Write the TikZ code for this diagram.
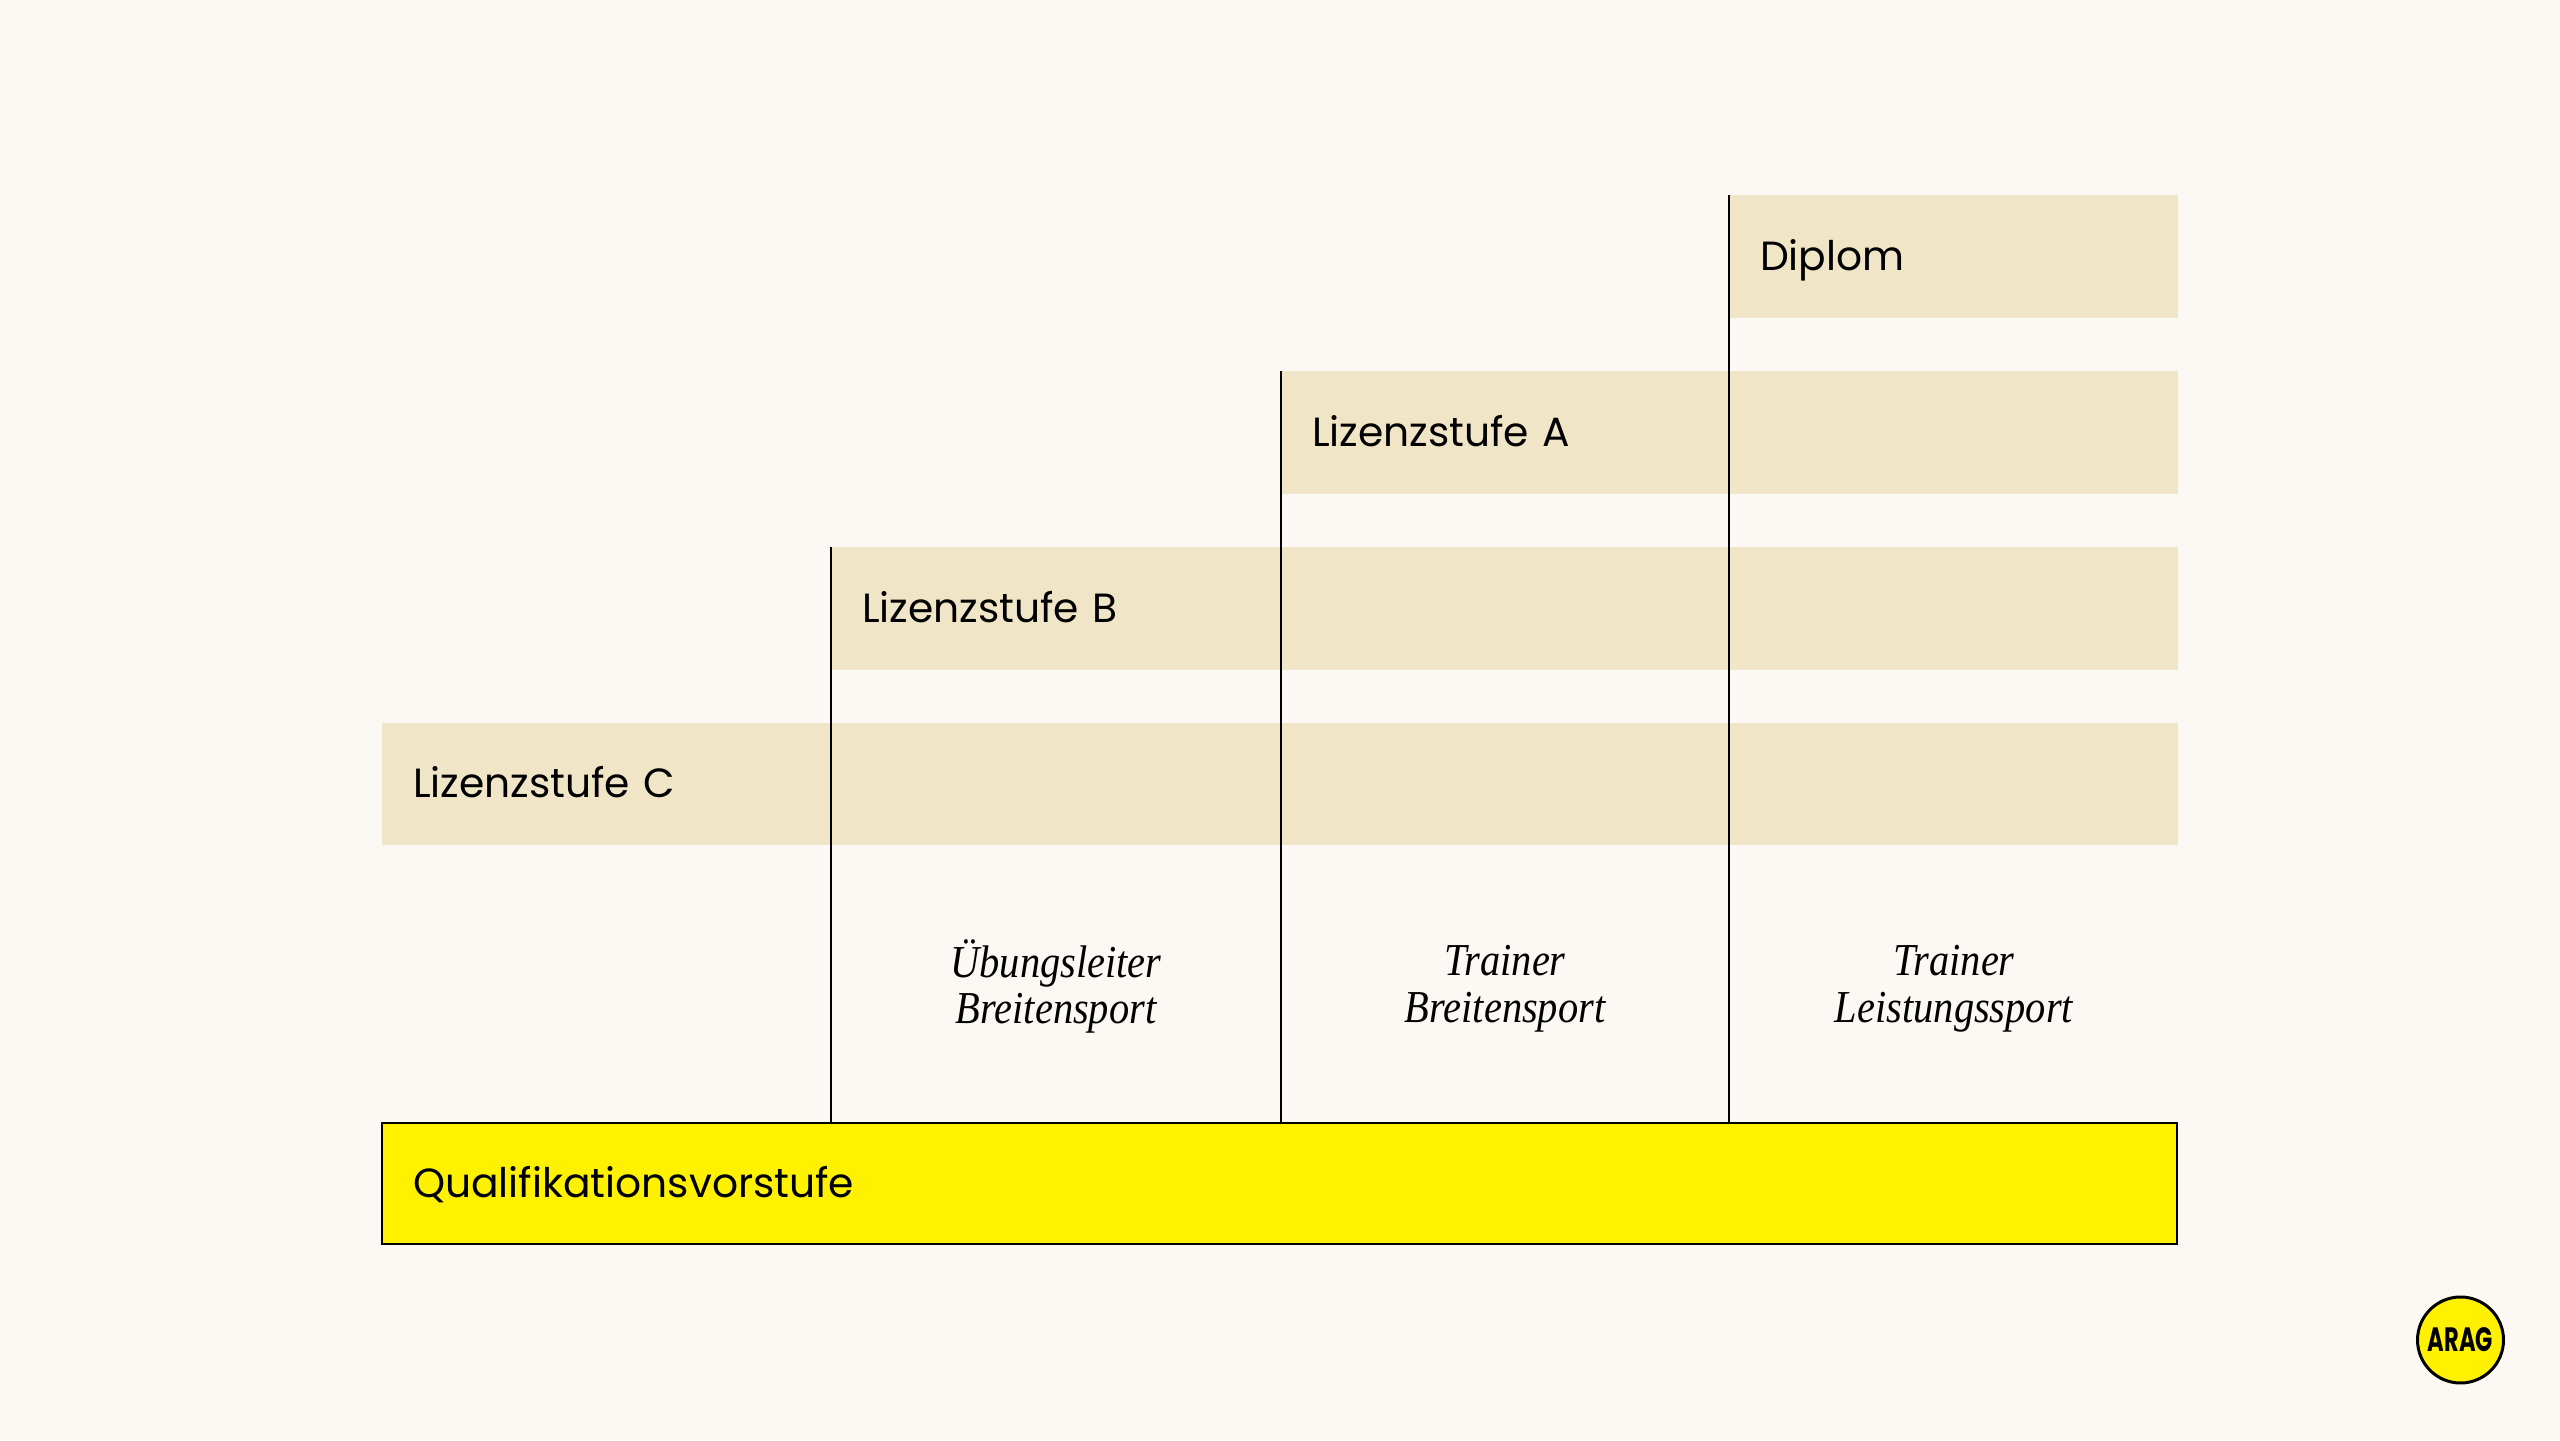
\documentclass[tikz,border=0pt]{standalone}
\usepackage{fontspec}
\setmainfont{Poppins}
\newfontfamily\serifit{Liberation Serif}
\usetikzlibrary{positioning}
\definecolor{bgcol}{HTML}{FCF9F4}
\definecolor{bandcol}{HTML}{F1E5C7}
\definecolor{aragcol}{HTML}{FFF100}
\tikzset{
    bandbox/.style={fill=bandcol, anchor=north west, minimum height=1.23cm, outer sep=0pt,
        inner ysep=0pt, inner xsep=0.31cm, align=left, text height=0.37cm, text depth=0.09cm,
        font=\fontsize{11.6}{15}\selectfont},
    rolelabel/.style={align=center, xscale=0.885, font=\serifit\itshape\fontsize{13}{13.3}\selectfont},
    stepline/.style={line width=0.5pt, black},
}
\begin{document}
\begin{tikzpicture}
    \fill[bgcol] (0,0) rectangle (25.6,14.4);

    \node[bandbox, text width=17.34cm, minimum height=1.22cm] (stufec) at (3.82,7.17) {Lizenzstufe C};
    \node[bandbox, text width=12.85cm] (stufeb) at (8.31,8.93) {Lizenzstufe B};
    \node[bandbox, text width=8.35cm] (stufea) at (12.81,10.69) {Lizenzstufe A};
    \node[bandbox, text width=3.87cm] (diplom) at (17.29,12.45) {Diplom};

    \node[bandbox, fill=aragcol, draw=black, line width=0.5pt, text width=17.33cm, minimum height=1.21cm] (vorstufe) at (3.82,3.17) {Qualifikationsvorstufe};

    \foreach \v in {stufeb,stufea,diplom}
    {
        \draw[stepline] (\v.north west) -- (\v.north west |- vorstufe.north);
    };

    \node[rolelabel] (uebungsleiter) at (10.56,4.535) {Übungsleiter\\Breitensport};
    \node[rolelabel] (trainerbreite) at (15.05,4.515) {Trainer\\Breitensport};
    \node[rolelabel] (trainerleistung) at (19.54,4.515) {Trainer\\Leistungssport};

    %logo
    \node[circle, fill=aragcol, draw=black, line width=0.85pt, minimum size=0.86cm, inner sep=0pt] (logo) at (24.605,1.0) {};
    \node[font=\bfseries\fontsize{9.6}{10}\selectfont, xscale=0.67, inner sep=0pt] (logotext) at (logo) {ARAG};
\end{tikzpicture}
\end{document}
